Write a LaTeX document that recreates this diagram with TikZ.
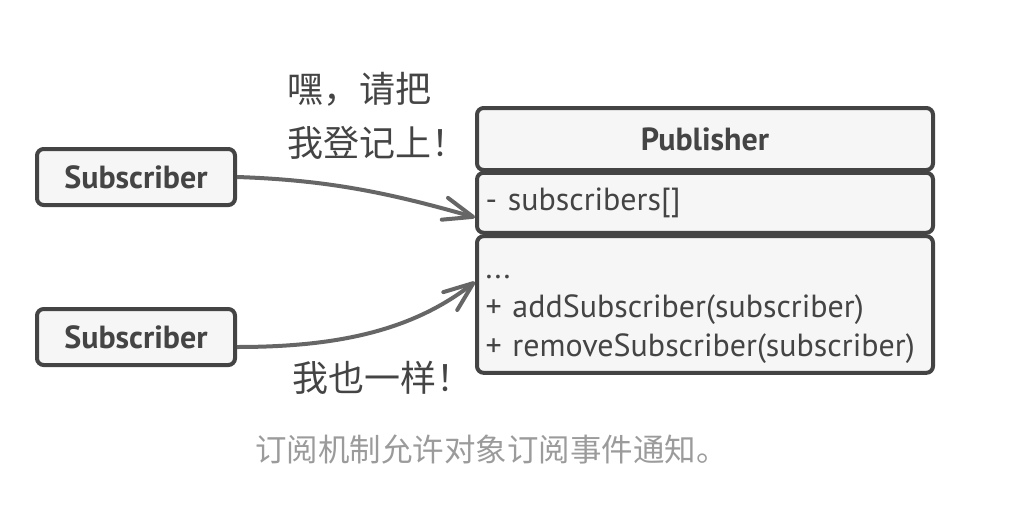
\documentclass[tikz,border=0pt]{standalone}
\usepackage{fontspec}
\setmainfont{PT Sans}
\newfontfamily\cjk{Noto Sans CJK SC}
\usetikzlibrary{arrows.meta}
\definecolor{boxline}{HTML}{444444}
\definecolor{boxfill}{HTML}{F6F6F6}
\definecolor{arrowline}{HTML}{666666}
\definecolor{captiongray}{HTML}{9B9B9B}
\tikzset{every picture/.style={line width=0.75pt}}
\tikzset{
classbox/.style={draw=boxline, fill=boxfill, line width=3pt, rounded corners=5pt, text=boxline, inner xsep=6.5pt, inner ysep=0pt},
subbox/.style={classbox, minimum width=148.5pt, minimum height=42pt, font=\bfseries\fontsize{24}{28}\selectfont},
pubpart/.style={classbox, minimum width=342pt, text width=329pt, align=left, font=\fontsize{24}{29.25}\selectfont},
subarrow/.style={draw=arrowline, line width=3pt, -{Straight Barb[length=22pt,width=17pt,round]}},
saytext/.style={inner sep=0pt, align=left, text=boxline, font=\cjk\fontsize{27}{40}\selectfont}
}

\begin{document}
\begin{tikzpicture}[x=0.75pt,y=0.75pt,yscale=-1,xscale=1]
\useasboundingbox (0,0) rectangle (1010,518);

%Shape: Rectangle [id:sub1]
\draw (136,177) node [subbox] (sub1) {Subscriber};
%Shape: Rectangle [id:sub2]
\draw (136,337) node [subbox] (sub2) {Subscriber};

%Shape: Rectangle [id:pubname]
\draw (705,139) node [pubpart, minimum height=46.5pt, align=center, font=\bfseries\fontsize{24}{28}\selectfont] (pubname) {Publisher};
%Shape: Rectangle [id:pubfields]
\draw (705,202.75) node [pubpart, minimum height=45pt] (pubfields) {- subscribers[]};
%Shape: Rectangle [id:pubmethods]
\draw (705,304.5) node [pubpart, minimum height=102.5pt] (pubmethods) {\rule{0pt}{24.75pt}...\\+ addSubscriber(subscriber)\\+ removeSubscriber(subscriber)};

%Curve Lines [id:subscribe1]
\draw [subarrow] (sub1.east) .. controls +(90,3) and +(-86.5,-24.8) .. ([yshift=11pt]pubfields.west);
%Curve Lines [id:subscribe2]
\draw [subarrow] ([yshift=7.5pt]sub2.east) .. controls +(100,0) and +(-63,49) .. ([yshift=-17pt]pubmethods.west);

% Text Node
\draw (287,116) node [anchor=west][saytext] (say1) {嘿，请把\\我登记上！};
% Text Node
\draw (292,378) node [anchor=west][saytext] (say2) {我也一样！};
% Text Node
\draw (255,449) node [anchor=west][inner sep=0pt][text=captiongray, font=\cjk\fontsize{23.6}{28}\selectfont] (caption) {订阅机制允许对象订阅事件通知。};

\end{tikzpicture}
\end{document}
